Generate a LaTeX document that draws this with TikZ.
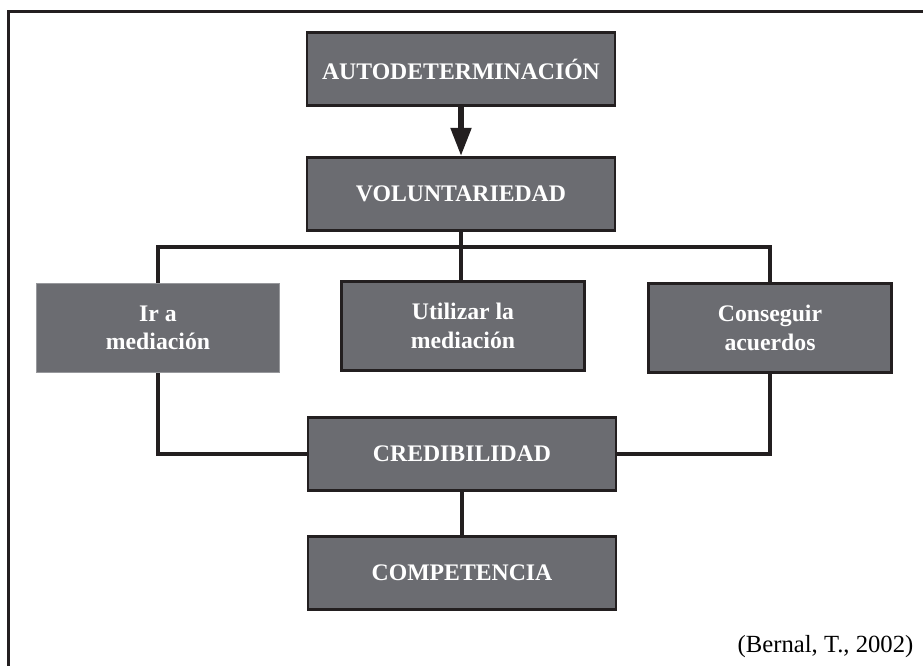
\documentclass[tikz,border=0pt]{standalone}
\usepackage{fontspec}
\setmainfont{Liberation Serif}
\usetikzlibrary{positioning, arrows.meta}
\definecolor{boxgray}{RGB}{107,108,113}
\definecolor{inkdark}{RGB}{35,31,32}

\begin{document}
\begin{tikzpicture}[x=0.75pt, y=-0.75pt, line join=miter,
    box/.style={draw=inkdark, line width=2.2pt, fill=boxgray, text=white,
      font=\fontsize{17.8}{21.4}\selectfont\bfseries, align=center, inner sep=0pt},
    wide/.style={box, minimum width=231pt, minimum height=55pt},
    mid/.style={box, minimum width=182pt, minimum height=67pt},
    link/.style={draw=inkdark, line width=3.5pt}]
  \useasboundingbox (0,0) rectangle (923,665);
  % frame
  \draw[inkdark, line width=2.3pt] (8.5,680) -- (8.5,11.5) -- (940,11.5);

  \node[wide] (auto) at (461,69) {AUTODETERMINACIÓN};
  \node[wide] (volun) at (461,194) {VOLUNTARIEDAD};
  \node[mid, draw=boxgray!70!white, line width=0.6pt] (ir) at (158,328) {Ir a\\mediación};
  \node[mid] (util) at (463,326) {Utilizar la\\mediación};
  \node[mid] (cons) at (770,328) {Conseguir\\acuerdos};
  \node[wide] (cred) at (462,454) {CREDIBILIDAD};
  \node[wide] (comp) at (462,573) {COMPETENCIA};
  \coordinate (split) at (461,247);

  \draw[link, line width=3.8pt, -{Triangle[length=21pt,width=15pt]}] (auto) -- (volun);
  \draw[link] (volun) -- (split);
  \draw[link] (ir.north) |- (split) -| (cons.north);
  \draw[link] (split) -- (split |- util.north);
  \draw[link] (ir.south) |- (cred.west);
  \draw[link] (cons.south) |- (cred.east);
  \draw[link] (cred) -- (comp);

  \node[anchor=base east, font=\fontsize{18.5}{22}\selectfont] (src) at (918,652) {(Bernal, T., 2002)};
\end{tikzpicture}
\end{document}
